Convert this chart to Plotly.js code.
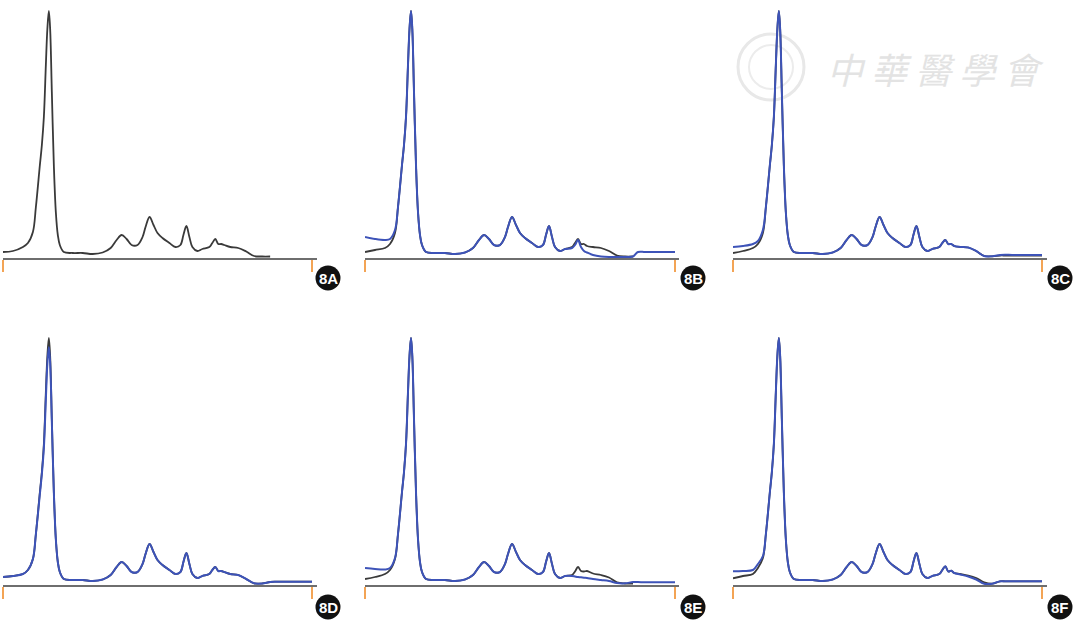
<!DOCTYPE html>
<html>
<head>
<meta charset="utf-8">
<script src="https://cdn.plot.ly/plotly-3.0.1.min.js"></script>
<style>html,body{margin:0;padding:0;background:#fff;}#chart{width:1080px;height:625px;}</style>
</head>
<body>
<div id="chart"></div>
<script>
// Lane position (arbitrary units, 0 = start tick, 310 = end tick)
const lanePos = [0,10,20,25,30,33,37,39,41,43,44.5,46,47.3,49,51,53,55,57,61,70,80,90,100,108,114,119,124,129,135,140,143,147,151,155,160,167,173,178,181,184,187,190,195,200,207,210,213,216,219,222,228,236,244,252,260,268,273,280,295,310];

// Shared central section of the reference profile (positions 33 .. 200)
const mid = [50,92,112,140,192,228,246,228,165,92,45,22,12,5,4,4,3,4.5,9,17,22,18,12,12,20,30,40,32,24,19,14,10,12,22,31,20,10,6,8];
const midD2 = [50,90,110,136,185,220,237,221,162,92,45,22,12,5,4,4,3,4.5,9,17,22,18,12,12,20,30,40,32,24,19,14,10,12,22,31,20,10,6,8];

const refA = [5,6,10,14,25].concat(mid, [10,14,18,13,13,12,10,9,5.5,1,0.5,0.5,null,null,null,null]);

const refB = [5,7,9,13,24].concat(mid, [10,14,18,13,13,11,10,9,6,1.5,0.5,0.5,null,null,null,null]);
const smpB = [20,18,17,18,27].concat(mid, [9,12,17,10,6,4.5,2,0.5,0,0,0,0.5,5,5,5,5]);

const refC = [4,6,9,13,24].concat(mid, [10,14,17,13,13,11,10,9.5,6,1,0.7,1.5,1.5,1.5,1.5,1.5]);
const smpC = [10,11,13,16,27].concat(mid, [10,14,17,13,13,11,10,9.5,6,1,0.7,2,2.3,2,2,2]);

const refD = [7,8,10,14,25].concat(mid, [10,14,17,13,13,12,10,9,5,0.7,0.5,2,2.3,2.3,2.3,2.3]);
const smpD = [7,8,10,14,25].concat(midD2, [10,14,17,13,13,12,10,9,5,0.7,0.5,2,2.3,2.3,2.3,2.3]);

const refE = [5,7,10,14,25].concat(mid, [9,12.5,17,13,12.5,13,10.5,9,6.5,1.7,0.5,0.3,null,null,null,null]);
const smpE = [16,15,14.5,16,26].concat(mid, [8,7.5,7,6.7,6.3,6,5,4,3,1,0.7,2,2,1.7,1.7,1.7]);

const refF = [5.7,8,10,16,26].concat(mid, [10,14,17.7,12.5,13.3,11,10,8.5,6,1.7,0.3,2.7,2.7,2.7,2.7,2.7]);
const smpF = [12.7,13,14,20,28].concat(mid, [10,14,17.7,12.5,13.3,11,9.5,7.5,4.5,0.3,0.3,2.7,2.7,2.7,2.7,2.7]);

const panelLabels = ['8A','8B','8C','8D','8E','8F'];
const panelRef = [refA, refB, refC, refD, refE, refF];
const panelSmp = [null, smpB, smpC, smpD, smpE, smpF];

// ---------- layout geometry (pixels) ----------
const W = 1080, H = 625;
const cols = [{l:3, r:312, e:317, lab:328}, {l:365, r:675, e:679, lab:693}, {l:733, r:1042, e:1047, lab:1060}];
const rows = [{base:258, lab:278}, {base:585, lab:607}];

const traces = [];
const layout = {
  width: W, height: H,
  margin: {l:0, r:0, t:0, b:0},
  paper_bgcolor: '#ffffff', plot_bgcolor: 'rgba(0,0,0,0)',
  showlegend: false,
  shapes: [], annotations: []
};

for (let i = 0; i < 6; i++) {
  const c = cols[i % 3], r = rows[Math.floor(i / 3)];
  const n = i + 1;
  const xa = 'x' + (n === 1 ? '' : n), ya = 'y' + (n === 1 ? '' : n);
  const xk = 'xaxis' + (n === 1 ? '' : n), yk = 'yaxis' + (n === 1 ? '' : n);
  const xEnd = (c.e - c.l) * 310 / (c.r - c.l);
  layout[xk] = {
    domain: [c.l / W, c.e / W], range: [0, xEnd], anchor: ya,
    showline: true, linecolor: '#6e6e6e', linewidth: 1.5,
    ticks: 'outside', tickvals: [0, 310], ticklen: 12, tickwidth: 1.2, tickcolor: '#f3a455',
    showticklabels: false, showgrid: false, zeroline: false, fixedrange: true
  };
  layout[yk] = {
    domain: [1 - r.base / H, 1 - (r.base - 250) / H], range: [-1, 249], anchor: xa,
    visible: false, fixedrange: true
  };
  traces.push({
    x: lanePos, y: panelRef[i], xaxis: xa, yaxis: ya, type: 'scatter', mode: 'lines',
    line: {color: '#3a3a3a', width: 1.8, shape: 'spline', smoothing: 1.0}, connectgaps: false,
    hoverinfo: 'skip'
  });
  if (panelSmp[i]) {
    traces.push({
      x: lanePos, y: panelSmp[i], xaxis: xa, yaxis: ya, type: 'scatter', mode: 'lines',
      line: {color: '#3d53b8', width: 2, shape: 'spline', smoothing: 1.0}, connectgaps: false,
      hoverinfo: 'skip'
    });
  }
  const rad = 12.5;
  layout.shapes.push({
    type: 'circle', xref: 'paper', yref: 'paper', layer: 'above',
    x0: (c.lab - rad) / W, x1: (c.lab + rad) / W, y0: 1 - (r.lab + rad) / H, y1: 1 - (r.lab - rad) / H,
    fillcolor: '#111111', line: {color: '#111111', width: 0}
  });
  layout.annotations.push({
    xref: 'paper', yref: 'paper', x: c.lab / W, y: 1 - r.lab / H, xanchor: 'center', yanchor: 'middle',
    text: '<b>' + panelLabels[i] + '</b>', showarrow: false,
    font: {family: 'Liberation Sans, Arial, sans-serif', size: 15, color: '#ffffff'}
  });
}

// faint publisher watermark
layout.shapes.push({type:'circle', xref:'paper', yref:'paper', layer:'below',
  x0:(771-33)/W, x1:(771+33)/W, y0:1-(67+33)/H, y1:1-(67-33)/H, line:{color:'#e8e8e8', width:3}});
layout.shapes.push({type:'circle', xref:'paper', yref:'paper', layer:'below',
  x0:(771-22)/W, x1:(771+22)/W, y0:1-(67+22)/H, y1:1-(67-22)/H, line:{color:'#ececec', width:2}});
layout.annotations.push({
  xref:'paper', yref:'paper', x:935/W, y:1-68/H, xanchor:'center', yanchor:'middle', showarrow:false,
  text:'中 華 醫 學 會',
  font:{family:'Noto Sans CJK TC, Noto Sans CJK SC, sans-serif', size:36, color:'#e3e3e3', style:'italic'}
});

Plotly.newPlot('chart', traces, layout, {staticPlot: true, displayModeBar: false});
</script>
</body>
</html>
